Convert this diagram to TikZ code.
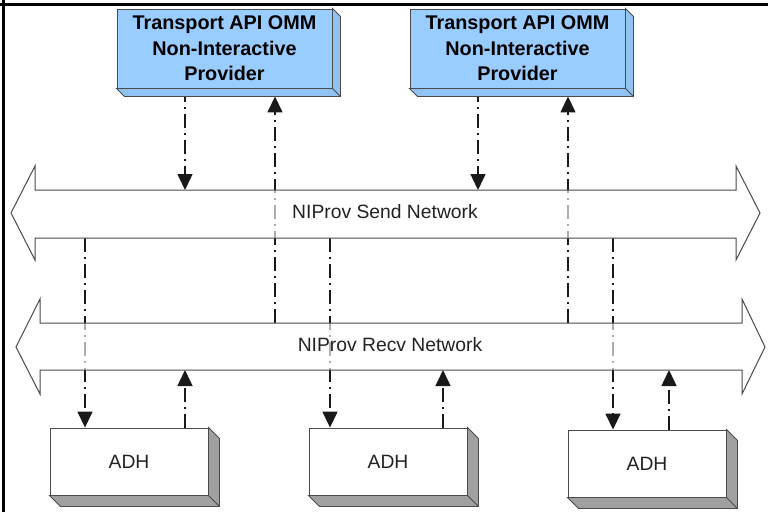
\documentclass[tikz,border=0pt]{standalone}
\usepackage{fontspec}
\setmainfont{Liberation Sans}
\usetikzlibrary{arrows.meta,calc}
\definecolor{provblue}{HTML}{99CCFF}
\definecolor{provdepth}{HTML}{90C2F2}
\definecolor{adhdepth}{HTML}{A0A0A0}
\definecolor{edgegray}{HTML}{4A4A4A}
\definecolor{txtgray}{HTML}{222222}
\begin{document}
\begin{tikzpicture}[x=1pt,y=-1pt,
  provbox/.style={draw=edgegray,line width=0.9pt,fill=provblue,minimum width=215pt,minimum height=79pt,align=center,inner sep=0pt,
    font=\fontsize{19.8}{25.5}\selectfont\bfseries,text=black},
  adhbox/.style={draw=edgegray,line width=0.9pt,fill=white,minimum width=158pt,minimum height=67pt,inner sep=0pt,
    font=\fontsize{19.3}{23}\selectfont,text=txtgray},
  netshape/.style={draw=edgegray,line width=1pt,fill=white,fill opacity=0.65},
  netlabel/.style={font=\fontsize{19.3}{23}\selectfont,text=txtgray,inner sep=0pt},
  flow/.style={draw=black!90,line width=1.5pt,dash pattern=on 14pt off 5pt on 2pt off 5pt},
  tipped/.style={flow,-{Triangle[length=16pt,width=15pt]}},
  frameline/.style={line width=3pt,black}
]
\useasboundingbox (0,0) rectangle (768,512);
% frame
\draw[frameline] (0,4) -- (768,4);
\draw[frameline] (3.5,0) -- (3.5,512);

% network reference coordinates
\coordinate (sendtop) at (0,190);
\coordinate (sendbot) at (0,238);
\coordinate (recvtop) at (0,323);
\coordinate (recvbot) at (0,370);

% boxes (nodes)
\node[provbox] (p1) at (224.5,48.5) {Transport API OMM\\Non-Interactive\\Provider};
\node[provbox] (p2) at (517.5,48.5) {Transport API OMM\\Non-Interactive\\Provider};
\node[adhbox] (a1) at (129,461.5) {ADH};
\node[adhbox] (a2) at (388,461.5) {ADH};
\node[adhbox] (a3) at (647,463.5) {ADH};

% connector x positions
\coordinate (x85) at (85,0);
\coordinate (x185) at (185,0);
\coordinate (x275) at (275,0);
\coordinate (x330) at (330,0);
\coordinate (x443) at (443,0);
\coordinate (x478) at (478,0);
\coordinate (x568) at (568,0);
\coordinate (x613) at (613,0);
\coordinate (x669) at (669,0);

% connectors (drawn before networks so they show faintly through them)
\draw[tipped] (x185 |- p1.south) -- (x185 |- sendtop);
\draw[tipped] (x275 |- recvtop) -- ($(x275 |- p1.south)+(0,8)$);
\draw[tipped] (x478 |- p2.south) -- (x478 |- sendtop);
\draw[tipped] (x568 |- recvtop) -- ($(x568 |- p2.south)+(0,8)$);
\draw[tipped] (x85 |- sendbot) -- (x85 |- a1.north);
\draw[tipped] (x330 |- sendbot) -- (x330 |- a2.north);
\draw[tipped] (x613 |- sendbot) -- (x613 |- a3.north);
\draw[tipped] (x185 |- a1.north) -- (x185 |- recvbot);
\draw[tipped] (x443 |- a2.north) -- (x443 |- recvbot);
\draw[tipped] (x669 |- a3.north) -- (x669 |- recvbot);

% networks
\draw[netshape] (35,190) -- (736,190) -- (736,166) -- (760,213) -- (736,260) -- (736,238)
  -- (35,238) -- (35,260) -- (11,213) -- (35,166) -- cycle;
\draw[netshape] (40,323) -- (742,323) -- (742,299) -- (765,347) -- (742,394) -- (742,370)
  -- (40,370) -- (40,394) -- (16,347) -- (40,299) -- cycle;
\node[netlabel] (sendlbl) at (385,212) {NIProv Send Network};
\node[netlabel] (recvlbl) at (390,345) {NIProv Recv Network};

% 3D depth of boxes
\foreach \b/\d/\c in {p1/8/provdepth,p2/8/provdepth,a1/11/adhdepth,a2/11/adhdepth,a3/11/adhdepth}{
  \filldraw[draw=edgegray,line width=0.9pt,fill=\c]
    (\b.north east) -- ($(\b.north east)+(\d,\d)$) -- ($(\b.south east)+(\d,\d)$)
    -- ($(\b.south west)+(\d,\d)$) -- (\b.south west) -- (\b.south east) -- cycle;
  \draw[edgegray,line width=0.9pt] (\b.south east) -- ($(\b.south east)+(\d,\d)$);
}
% redraw box faces on top
\node[provbox] at (p1) {Transport API OMM\\Non-Interactive\\Provider};
\node[provbox] at (p2) {Transport API OMM\\Non-Interactive\\Provider};
\node[adhbox] at (a1) {ADH};
\node[adhbox] at (a2) {ADH};
\node[adhbox] at (a3) {ADH};
\end{tikzpicture}
\end{document}
